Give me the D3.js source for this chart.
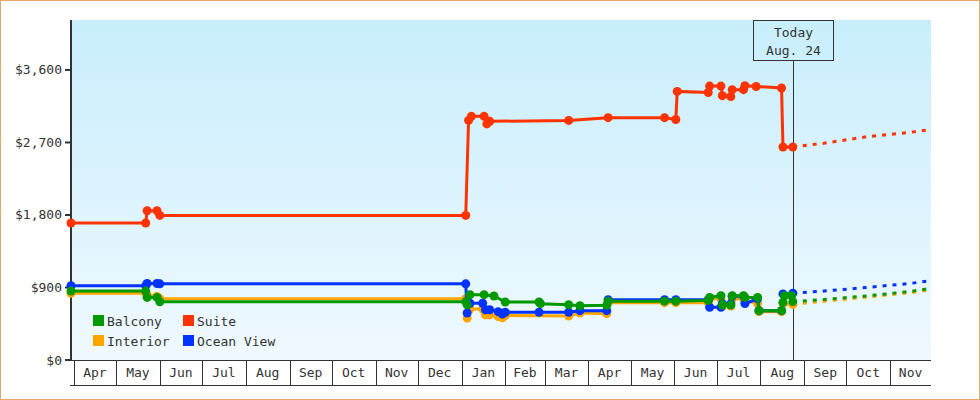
<!DOCTYPE html>
<html>
<head>
<meta charset="utf-8">
<script src="https://cdn.jsdelivr.net/npm/d3@7"></script>
<style>
  html, body { margin: 0; padding: 0; background: #fff; }
  svg { display: block; }
  text { font-family: "DejaVu Sans Mono", monospace; font-size: 13px; fill: #333; }
</style>
</head>
<body>
<svg id="chart" width="980" height="400"></svg>
<script>
// ---------- data ----------
const categories = ["Balcony", "Suite", "Interior", "Ocean View"];
const colors = ["#009900", "#ff3300", "#ffa500", "#0033ff"];

const yTicks = [0, 900, 1800, 2700, 3600];
const monthStarts = ["2016-04-01","2016-05-01","2016-06-01","2016-07-01","2016-08-01","2016-09-01",
  "2016-10-01","2016-11-01","2016-12-01","2017-01-01","2017-02-01","2017-03-01","2017-04-01",
  "2017-05-01","2017-06-01","2017-07-01","2017-08-01","2017-09-01","2017-10-01","2017-11-01"];
const monthLabels = ["Apr","May","Jun","Jul","Aug","Sep","Oct","Nov","Dec","Jan","Feb","Mar","Apr",
  "May","Jun","Jul","Aug","Sep","Oct","Nov"];
const todayDate = "2017-08-24";
const todayLabel = ["Today", "Aug. 24"];

const suiteDates = ["2016-03-30","2016-05-22","2016-05-23","2016-05-30","2016-06-01","2017-01-04",
  "2017-01-06","2017-01-08","2017-01-17","2017-01-19","2017-01-21","2017-03-18","2017-04-15",
  "2017-05-25","2017-06-02","2017-06-03","2017-06-25","2017-06-26","2017-07-04","2017-07-05",
  "2017-07-11","2017-07-12","2017-07-20","2017-07-21","2017-07-29","2017-08-16","2017-08-17","2017-08-24"];
const suiteValues = [1700,1700,1853,1853,1795,1795,2974,3024,3024,2930,2962,2974,3008,
  3008,2985,3334,3320,3400,3400,3281,3270,3355,3355,3405,3395,3376,2644,2644];
const suiteForecastDates = ["2017-08-24","2017-09-15","2017-10-15","2017-11-15","2017-11-30"];
const suiteForecastValues = [2644,2690,2770,2825,2860];

const oceanDates = ["2016-03-30","2016-05-22","2016-05-23","2016-05-30","2016-06-01","2017-01-04",
  "2017-01-05","2017-01-07","2017-01-16","2017-01-18","2017-01-21","2017-01-27","2017-01-30",
  "2017-02-01","2017-02-25","2017-03-18","2017-03-26","2017-04-14","2017-04-15","2017-05-25",
  "2017-06-02","2017-06-25","2017-06-26","2017-07-04","2017-07-05","2017-07-11","2017-07-12",
  "2017-07-20","2017-07-21","2017-07-30","2017-07-31","2017-08-16","2017-08-17","2017-08-24"];
const oceanValues = [922,922,950,950,945,945,583,705,705,624,624,600,570,593,593,593,612,612,748,748,
  748,748,655,655,700,700,790,790,700,760,612,612,820,830];
const oceanForecastDates = ["2017-08-24","2017-09-15","2017-10-15","2017-11-15","2017-11-30"];
const oceanForecastValues = [830,855,900,950,984];

const balconyDates = ["2016-03-30","2016-05-22","2016-05-23","2016-05-30","2016-06-01","2017-01-04",
  "2017-01-05","2017-01-07","2017-01-17","2017-01-24","2017-02-01","2017-02-25","2017-02-26",
  "2017-03-18","2017-03-26","2017-04-14","2017-04-15","2017-05-25","2017-06-02","2017-06-25",
  "2017-06-26","2017-07-04","2017-07-05","2017-07-11","2017-07-12","2017-07-20","2017-07-21",
  "2017-07-30","2017-07-31","2017-08-16","2017-08-17","2017-08-18","2017-08-23","2017-08-24"];
const balconyValues = [855,855,777,777,722,722,686,811,811,795,720,720,699,686,674,678,730,730,730,740,
  777,798,683,683,798,798,777,777,612,612,715,798,798,725];
const balconyForecastDates = ["2017-08-24","2017-09-15","2017-10-15","2017-11-15","2017-11-30"];
const balconyForecastValues = [725,750,795,850,889];

const interiorDates = ["2016-03-30","2016-05-22","2016-05-23","2016-05-30","2016-06-01","2017-01-04",
  "2017-01-05","2017-01-07","2017-01-16","2017-01-18","2017-01-21","2017-01-27","2017-01-30",
  "2017-02-01","2017-03-18","2017-03-26","2017-04-14","2017-04-15","2017-05-25","2017-06-02",
  "2017-06-25","2017-06-26","2017-07-04","2017-07-05","2017-07-11","2017-07-12","2017-07-20",
  "2017-07-21","2017-07-30","2017-07-31","2017-08-16","2017-08-17","2017-08-24"];
const interiorValues = [827,827,807,790,761,761,521,633,633,560,560,540,525,552,545,583,575,712,712,712,
  712,760,760,670,670,760,760,740,700,600,600,700,690];
const interiorForecastDates = ["2017-08-24","2017-09-15","2017-10-15","2017-11-15","2017-11-30"];
const interiorForecastValues = [690,730,780,835,869];

// ---------- chart ----------
const parse = d3.timeParse("%Y-%m-%d");
const svg = d3.select("#chart");
const W = 980, H = 400;
const pL = 71, pR = 931, pT = 20, pB = 360;

const x = d3.scaleTime().domain([parse("2016-03-30"), parse("2017-11-30")]).range([pL, pR]);
const y = d3.scaleLinear().domain([0, 4220]).range([pB, pT]);

// outer border
svg.append("rect").attr("x", 0.5).attr("y", 0.5).attr("width", W - 1).attr("height", H - 1)
  .attr("fill", "#fff").attr("stroke", "#e6aa68").attr("stroke-width", 1);

// gradient background
const defs = svg.append("defs");
const grad = defs.append("linearGradient").attr("id", "bg").attr("x1", 0).attr("y1", 0).attr("x2", 0).attr("y2", 1);
grad.append("stop").attr("offset", "0%").attr("stop-color", "#c8eefc");
grad.append("stop").attr("offset", "100%").attr("stop-color", "#f0f9ff");
svg.append("rect").attr("x", pL).attr("y", pT).attr("width", pR - pL).attr("height", pB - pT)
  .attr("fill", "url(#bg)");

// x axis month boxes
const ms = monthStarts.map(parse);
const endDate = x.domain()[1];
const xAxisG = svg.append("g");
xAxisG.append("line").attr("x1", pL).attr("x2", pR).attr("y1", pB + 0.5).attr("y2", pB + 0.5)
  .attr("stroke", "#333").attr("stroke-width", 1);
xAxisG.append("line").attr("x1", pL - 1).attr("x2", pR).attr("y1", 385.5).attr("y2", 385.5)
  .attr("stroke", "#333").attr("stroke-width", 1);
ms.forEach((d, i) => {
  const x0 = Math.round(x(d)) + 0.5;
  xAxisG.append("line").attr("x1", x0).attr("x2", x0).attr("y1", pB).attr("y2", 385.5)
    .attr("stroke", "#333").attr("stroke-width", 1);
  const nxt = i < ms.length - 1 ? ms[i + 1] : endDate;
  xAxisG.append("text").attr("x", (x(d) + x(nxt)) / 2).attr("y", 377)
    .attr("text-anchor", "middle").text(monthLabels[i]);
});

// y axis
const yAxisG = svg.append("g");
yAxisG.append("line").attr("x1", pL).attr("x2", pL).attr("y1", pT).attr("y2", pB + 1)
  .attr("stroke", "#333").attr("stroke-width", 2);
const fmt = d3.format("$,");
yTicks.forEach(t => {
  yAxisG.append("line").attr("x1", 65).attr("x2", pL).attr("y1", y(t)).attr("y2", y(t))
    .attr("stroke", "#333").attr("stroke-width", 2);
  yAxisG.append("text").attr("x", 62).attr("y", y(t) + 4.5).attr("text-anchor", "end").text(fmt(t));
});

// today marker
const tx = Math.round(x(parse(todayDate))) + 0.5;
svg.append("line").attr("x1", tx).attr("x2", tx).attr("y1", 60).attr("y2", pB)
  .attr("stroke", "#333").attr("stroke-width", 1);
svg.append("rect").attr("x", tx - 40).attr("y", 20.5).attr("width", 80).attr("height", 40)
  .attr("fill", "none").attr("stroke", "#333").attr("stroke-width", 1);
svg.append("text").attr("x", tx).attr("y", 37).attr("text-anchor", "middle").text(todayLabel[0]);
svg.append("text").attr("x", tx).attr("y", 55).attr("text-anchor", "middle").text(todayLabel[1]);

// series
const series = [
  { name: "Interior", color: colors[2], dates: interiorDates, values: interiorValues, fd: interiorForecastDates, fv: interiorForecastValues },
  { name: "Ocean View", color: colors[3], dates: oceanDates, values: oceanValues, fd: oceanForecastDates, fv: oceanForecastValues },
  { name: "Balcony", color: colors[0], dates: balconyDates, values: balconyValues, fd: balconyForecastDates, fv: balconyForecastValues },
  { name: "Suite", color: colors[1], dates: suiteDates, values: suiteValues, fd: suiteForecastDates, fv: suiteForecastValues }
];
const line = d3.line().x(d => x(d[0])).y(d => y(d[1]));

series.forEach(s => {
  const pts = s.dates.map((d, i) => [parse(d), s.values[i]]);
  const fpts = s.fd.map((d, i) => [parse(d), s.fv[i]]);
  const g = svg.append("g");
  g.append("path").attr("d", line(fpts)).attr("fill", "none").attr("stroke", s.color)
    .attr("stroke-width", 3).attr("stroke-dasharray", "4,6");
  g.append("path").attr("d", line(pts)).attr("fill", "none").attr("stroke", s.color)
    .attr("stroke-width", 3);
  g.selectAll("circle").data(pts).join("circle")
    .attr("cx", d => x(d[0])).attr("cy", d => y(d[1])).attr("r", 4.5).attr("fill", s.color);
});

// legend
const legendItems = [
  { name: categories[0], color: colors[0], lx: 93, ly: 315 },
  { name: categories[1], color: colors[1], lx: 183, ly: 315 },
  { name: categories[2], color: colors[2], lx: 93, ly: 335 },
  { name: categories[3], color: colors[3], lx: 183, ly: 335 }
];
const lg = svg.append("g");
legendItems.forEach(it => {
  lg.append("rect").attr("x", it.lx).attr("y", it.ly).attr("width", 11).attr("height", 11).attr("fill", it.color);
  lg.append("text").attr("x", it.lx + 14).attr("y", it.ly + 10.5).text(it.name);
});
</script>
</body>
</html>
